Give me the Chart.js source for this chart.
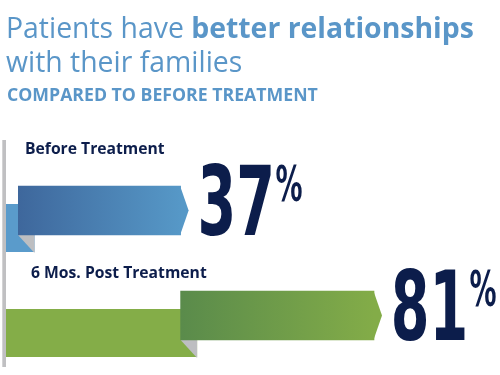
<!DOCTYPE html>
<html>
<head>
<meta charset="utf-8">
<script src="https://cdn.jsdelivr.net/npm/chart.js@4"></script>
<style>
  html, body { margin: 0; padding: 0; background: #ffffff; }
  #wrap { position: relative; width: 500px; height: 375px; overflow: hidden; }
  #chart { position: absolute; left: 0; top: 0; }
  .title { position: absolute; left: 6px; top: 10.2px; font-family: "Open Sans", sans-serif; font-size: 28.4px; line-height: 34px; color: #5a96c8; white-space: nowrap; }
  .title b { font-weight: 700; }
  .sub { position: absolute; left: 7px; top: 84.8px; font-family: "Open Sans", sans-serif; font-size: 17.7px; line-height: 18px; font-weight: 700; color: #5a96c8; white-space: nowrap; }
</style>
</head>
<body>
<div id="wrap">
  <canvas id="chart" width="500" height="375"></canvas>
  <div class="title">Patients have <b>better relationships</b><br>with their families</div>
  <div class="sub">COMPARED TO BEFORE TREATMENT</div>
</div>
<script>
const categories = ['Before Treatment', '6 Mos. Post Treatment'];
const values = [37, 81];
const valueLabels = ['37', '81'];

// styling
const frontColors = [['#3e679c', '#5698c7'], ['#5a8b4b', '#83ac48']];
const backColors = ['#5a9bcb', '#84ad48'];
const foldColor = '#bdbec1';
const navy = '#0c1d4b';
const labelPos = [{ x: 25, dy: -57 }, { x: 31, dy: -37.5 }];
const bigFont = '"Liberation Sans Narrow", "DejaVu Sans Condensed", "DejaVu Sans", sans-serif';

const ranges = values.map((v, i) => [i === 0 ? 0 : values[i - 1], v]);

const ribbonPlugin = {
  id: 'ribbon',
  beforeDatasetsDraw(chart) {
    const c = chart.ctx;
    const meta = chart.getDatasetMeta(0);
    c.save();
    c.fillStyle = '#c0c0c2';
    c.fillRect(2.3, 140, 3.7, 227);
    meta.data.forEach((el, i) => {
      const h = el.height;
      const top = el.y - h / 2;
      const bot = el.y + h / 2;
      const drop = 18;
      const foldW = 16.5;
      c.fillStyle = backColors[i];
      c.fillRect(6, top + drop, el.base + foldW - 6, h - 1);
      c.fillStyle = foldColor;
      c.beginPath();
      c.moveTo(el.base, bot);
      c.lineTo(el.base + foldW, bot);
      c.lineTo(el.base + foldW, bot + drop);
      c.closePath();
      c.fill();
    });
    c.restore();
  },
  afterDatasetsDraw(chart) {
    const c = chart.ctx;
    const meta = chart.getDatasetMeta(0);
    c.save();
    meta.data.forEach((el, i) => {
      const h = el.height;
      const top = el.y - h / 2;
      const bot = el.y + h / 2;
      c.fillStyle = frontColors[i][1];
      c.beginPath();
      c.moveTo(el.x - 0.5, top);
      c.lineTo(el.x + 8, el.y);
      c.lineTo(el.x - 0.5, bot);
      c.closePath();
      c.fill();

      c.fillStyle = navy;
      c.font = '700 15.7px "Open Sans", sans-serif';
      c.textBaseline = 'alphabetic';
      c.textAlign = 'left';
      c.fillText(categories[i], labelPos[i].x, el.y + labelPos[i].dy);

      const tx = el.x + 20;
      const sx = 0.645;
      c.font = '700 96px ' + bigFont;
      const m = c.measureText(valueLabels[i]);
      const left = -m.actualBoundingBoxLeft * sx;
      const inkW = (m.actualBoundingBoxRight + m.actualBoundingBoxLeft) * sx;
      const digitTop = bot - m.actualBoundingBoxAscent;
      c.save();
      c.translate(tx - left, bot);
      c.scale(sx, 1);
      c.fillText(valueLabels[i], 0, 0);
      c.restore();

      const psx = 0.6;
      c.font = '700 50px ' + bigFont;
      const pm = c.measureText('%');
      c.save();
      c.translate(tx + inkW + 5 + pm.actualBoundingBoxLeft * psx, digitTop + 1 + pm.actualBoundingBoxAscent);
      c.scale(psx, 1);
      c.fillText('%', 0, 0);
      c.restore();
    });
    c.restore();
  }
};

new Chart(document.getElementById('chart'), {
  type: 'bar',
  data: {
    labels: categories,
    datasets: [{
      data: ranges,
      barThickness: 49,
      borderWidth: 0,
      borderSkipped: false,
      backgroundColor(ctx) {
        const chart = ctx.chart;
        if (!chart.chartArea || ctx.raw === undefined) return frontColors[0][0];
        const xs = chart.scales.x;
        const x0 = xs.getPixelForValue(ctx.raw[0]);
        const x1 = xs.getPixelForValue(ctx.raw[1]);
        const g = chart.ctx.createLinearGradient(x0, 0, x1, 0);
        g.addColorStop(0, frontColors[ctx.dataIndex][0]);
        g.addColorStop(1, frontColors[ctx.dataIndex][1]);
        return g;
      }
    }]
  },
  options: {
    indexAxis: 'y',
    responsive: false,
    animation: false,
    events: [],
    layout: { padding: { left: 18, right: 42.5, top: 158, bottom: 7 } },
    scales: {
      x: { type: 'linear', min: 0, max: 100, display: false },
      y: { type: 'category', display: false }
    },
    plugins: { legend: { display: false }, tooltip: { enabled: false } }
  },
  plugins: [ribbonPlugin]
});
</script>
</body>
</html>
